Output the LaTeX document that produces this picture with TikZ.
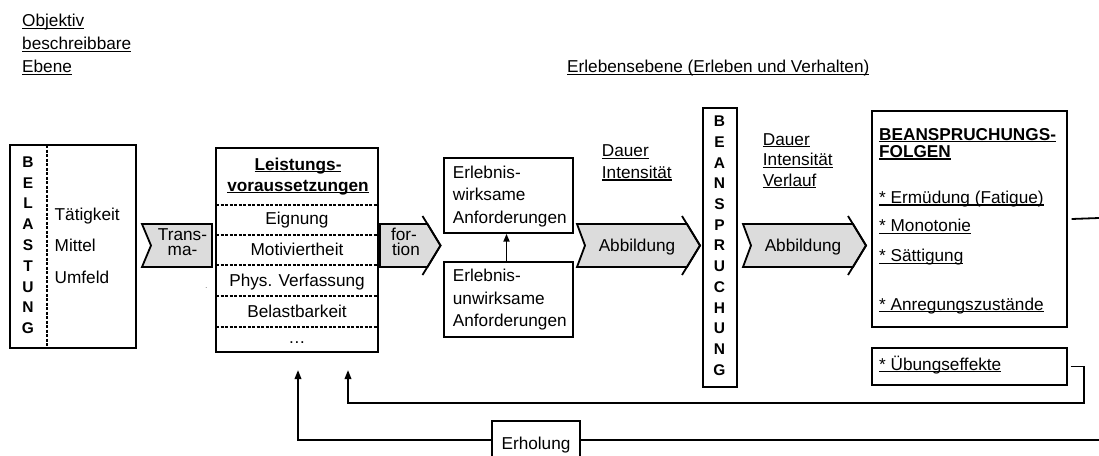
\documentclass[tikz,border=0pt]{standalone}
\usepackage{fontspec}
\setmainfont{Liberation Sans}
\usetikzlibrary{positioning,arrows.meta}
\definecolor{chv}{HTML}{DCDCDC}
\newsavebox\ulbx
\newcommand\ulin[1]{\sbox\ulbx{#1}\rlap{\rule[-2.3pt]{\wd\ulbx}{1.2pt}}\usebox\ulbx}
\tikzset{
  bx/.style={draw, line width=1.4pt, fill=white, inner sep=0pt},
  ln/.style={anchor=base west, inner sep=0pt},
  cl/.style={anchor=base, inner sep=0pt},
  vl/.style={anchor=base, inner sep=0pt, font=\fontsize{15.5}{15}\selectfont\bfseries},
  sep/.style={line width=1.2pt, dash pattern=on 3pt off 1.5pt},
  chev/.style={draw, fill=chv, line width=1.8pt},
  fbl/.style={line width=1.8pt},
  fb/.style={line width=1.8pt, -{Triangle[width=6.5pt,length=9pt]}}}

\begin{document}
\begin{tikzpicture}[x=1pt, y=-1pt, font=\fontsize{17.2}{20}\selectfont]
\useasboundingbox (0,0) rectangle (1099,455);
% levels
\foreach \t [count=\i from 0] in {Objektiv,beschreibbare,Ebene}
  \node[ln] (obj\i) at (22,26.5+23*\i) {\ulin{\t}};
\node[ln] (erl) at (567,72.7) {\ulin{Erlebensebene (Erleben und Verhalten)}};
% Belastung
\node[bx, minimum width=126, minimum height=203] (bel) at (73,246.5) {};
\draw[sep] (47,145) -- (47,348);
\foreach \c [count=\i from 0] in {B,E,L,A,S,T,U,N,G}
  \node[vl] (bl\i) at (28,167.3+20.8*\i) {\c};
\foreach \t/\y [count=\i] in {Tätigkeit/220.7, Mittel/251.7, Umfeld/283}
  \node[ln] (bt\i) at (54.5,\y) {\t};
% Transformation
\filldraw[chev] (142,224) -- (212,224) -- (212,267) -- (142,267) -- (151,245.5) -- cycle;
\node[cl] (trans1) at (182.5,240) {Trans-};
\node[cl] (trans2) at (182.5,255) {ma-};
\filldraw[chev] (380,224) -- (427.5,224) -- (440.5,245.5) -- (427.5,267) -- (380,267) -- cycle;
\draw[line width=1.8pt] (422.5,216) -- (440.5,245.5) -- (422.5,275);
\node[cl] (form1) at (404,240) {for-};
\node[cl] (form2) at (406,255) {tion};
\node[ln, font=\fontsize{9}{9}\selectfont, text=gray] (dot) at (205,288) {.};
% Leistungsvoraussetzungen
\node[bx, minimum width=162, minimum height=204] (lv) at (297,250) {};
\node[cl, font=\fontsize{17.2}{20}\selectfont\bfseries] (lvt1) at (298,170) {\ulin{Leistungs-}};
\node[cl, font=\fontsize{17.2}{20}\selectfont\bfseries] (lvt2) at (298,191) {\ulin{voraussetzungen}};
\foreach \y in {205,235,265,296,327}
  \draw[sep] (216,\y) -- (378,\y);
\foreach \t/\y [count=\i] in {Eignung/224.5, Motiviertheit/255, Phys. Verfassung/286, Belastbarkeit/317.5, \dots/343}
  \node[cl] (lvi\i) at (297,\y) {\t};
% Anforderungen
\node[bx, minimum width=129, minimum height=75] (ew) at (508.5,195.5) {};
\node[bx, minimum width=129, minimum height=75] (eu) at (508.5,299.5) {};
\foreach \t [count=\i from 0] in {Erlebnis-,wirksame,Anforderungen}
  \node[ln] (ewt\i) at (452.7,178.3+22.5*\i) {\t};
\foreach \t [count=\i from 0] in {Erlebnis-,unwirksame,Anforderungen}
  \node[ln] (eut\i) at (452.7,281.7+22.5*\i) {\t};
\draw[line width=1.8pt, -{Triangle[width=6pt,length=8pt]}] ([xshift=-2pt]eu.north) -- ([xshift=-2pt]ew.south);
% Dauer
\foreach \t [count=\i from 0] in {Dauer,Intensität}
  \node[ln] (da\i) at (601.7,156.7+21.6*\i) {\ulin{\t}};
\foreach \t [count=\i from 0] in {Dauer,Intensität,Verlauf}
  \node[ln] (db\i) at (762.7,145+20.5*\i) {\ulin{\t}};
% Abbildung
\foreach \x/\n in {577/1,743/2} {
  \filldraw[chev] (\x,224) -- (\x+110,224) -- (\x+123,245.5) -- (\x+110,267) -- (\x,267) -- (\x+8,245.5) -- cycle;
  \draw[line width=1.8pt] (\x+105,216) -- (\x+123,245.5) -- (\x+105,275);
  \node[cl] (abb\n) at (\x+60,251.7) {Abbildung};}
% Beanspruchung
\node[bx, minimum width=34, minimum height=279] (bsp) at (720,247.5) {};
\foreach \c [count=\i from 0] in {B,E,A,N,S,P,R,U,C,H,U,N,G}
  \node[vl] (bs\i) at (719.5,126.7+20.7*\i) {\c};
% Folgen
\node[bx, minimum width=195, minimum height=216] (bf) at (969.5,219) {};
\node[ln, font=\fontsize{17.2}{20}\selectfont\bfseries] (bft1) at (879,140) {\ulin{BEANSPRUCHUNGS-}};
\node[ln, font=\fontsize{17.2}{20}\selectfont\bfseries] (bft2) at (879,157.3) {\ulin{FOLGEN}};
\foreach \t/\y [count=\i] in {{* Ermüdung (Fatigue)}/203.3, * Monotonie/231.7, * Sättigung/261.7, * Anregungszustände/310}
  \node[ln] (bfi\i) at (879,\y) {\ulin{\t}};
\node[bx, minimum width=195, minimum height=37] (ue) at (969.5,366.5) {};
\node[ln] (uet) at (879,370) {\ulin{* Übungseffekte}};
% Erholung
\node[bx, minimum width=88, minimum height=38] (erh) at (536,440) {};
\node[cl] (erht) at (536,449) {Erholung};
% Rueckkopplung
\coordinate (bfout) at (1099,218);
\coordinate (uecor) at (1084,403);
\coordinate (lvin2) at (348,370);
\coordinate (erhin) at (1099,440);
\coordinate (lvin1) at (298,370);
\draw[fbl] ([xshift=4pt]bf.east) -- (bfout);
\draw[fb] ([xshift=3pt]ue.east) -| (uecor) -| (lvin2);
\draw[fbl, line width=2.5pt] (erhin) -- (erh.east);
\draw[fb] (erh.west) -| (lvin1);
\end{tikzpicture}
\end{document}
